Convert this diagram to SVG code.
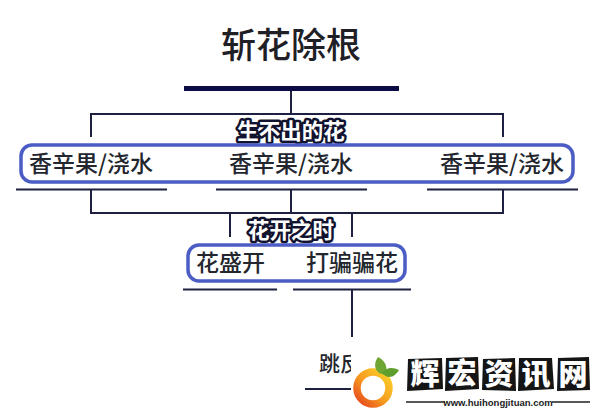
<svg xmlns="http://www.w3.org/2000/svg" width="600" height="413" viewBox="0 0 600 413">
<style>
text{font-family:"Noto Sans CJK SC","Liberation Sans",sans-serif}
.c{fill:none;stroke:#1d2040;stroke-width:2}
.box{fill:#fff;stroke:#4b5cc4;stroke-width:3.500}
.t{fill:#23262e;font-size:23px;font-weight:500}
.h{fill:#fff;stroke:#12132e;stroke-width:5px;paint-order:stroke;font-weight:700;font-size:21.500px;text-anchor:middle;stroke-linejoin:round}
.p{fill:#151515}
.w{fill:#fff;font-size:29px;font-weight:900;text-anchor:middle}
</style>
<defs>
<linearGradient id="ring" x1="1" y1="0" x2="0" y2="1"><stop offset="0" stop-color="#fdd32a"/><stop offset="0.55" stop-color="#f59a1f"/><stop offset="1" stop-color="#e5431e"/></linearGradient>
</defs>
<rect width="600" height="413" fill="#fff"/>
<g id="connectors">
<rect x="184" y="86" width="215" height="5" fill="#0b0b45"/>
<path class="c" d="M291 91V114M91 137V114H503V137"/>
<path class="c" d="M16 189.500H167M216 189.500H367M427 189.500H578"/>
<path class="c" d="M91 190V213H503V190M291 190V213M230 237V213M352 237V213"/>
<path class="c" d="M183 289.500H277M293 289.500H411M352 290V337M305 389H352"/>
</g>
<g id="title"><text x="291" y="58" font-size="35" fill="#1f2026" text-anchor="middle" font-weight="500">斩花除根</text></g>
<g id="label-top"><text class="h" x="291" y="139">生不出的花</text></g>
<g id="row-1">
<rect class="box" x="21" y="145" width="552" height="37" rx="11"/>
<text class="t" x="29" y="172">香辛果/浇水</text>
<text class="t" x="229" y="172">香辛果/浇水</text>
<text class="t" x="440" y="172">香辛果/浇水</text>
</g>
<g id="label-mid"><text class="h" x="291" y="238">花开之时</text></g>
<g id="row-2">
<rect class="box" x="188" y="245" width="217" height="36" rx="11"/>
<text class="t" x="196" y="271">花盛开</text>
<text class="t" x="306" y="271">打骗骗花</text>
</g>
<g id="leaf"><text x="319" y="371" font-size="21" font-weight="500" fill="#23262e">跳反</text></g>
<g id="watermark">
<rect x="351" y="352" width="249" height="61" fill="#fff"/>
<circle cx="373" cy="388" r="16" fill="none" stroke="url(#ring)" stroke-width="7.500"/>
<path d="M379 373C373 368 375 361 378 357C384 360 389 366 385 375Z" fill="#6fa531"/>
<path d="M382 373C386 367 393 367 399 370C395 377 388 380 382 373Z" fill="#5f9e2d"/>
<polygon class="p" points="408,359 442,358 443,389 407,391"/>
<polygon class="p" points="446,358 478,357 479,389 445,391"/>
<polygon class="p" points="483,359 515,358 516,391 482,390"/>
<polygon class="p" points="519,358 552,358 554,389 518,391"/>
<polygon class="p" points="558,358 589,357 590,390 557,391"/>
<text class="w" x="425" y="385">辉</text>
<text class="w" x="462" y="384">宏</text>
<text class="w" x="499" y="385">资</text>
<text class="w" x="536" y="385">讯</text>
<text class="w" x="573" y="385">网</text>
<path d="M406 402H445M552 402H590" stroke="#222" stroke-width="1.500"/>
<text x="498" y="405.500" font-size="9.500" font-weight="700" fill="#222" text-anchor="middle" style="font-family:'Liberation Sans',sans-serif">www.huihongjituan.com</text>
</g>
</svg>
